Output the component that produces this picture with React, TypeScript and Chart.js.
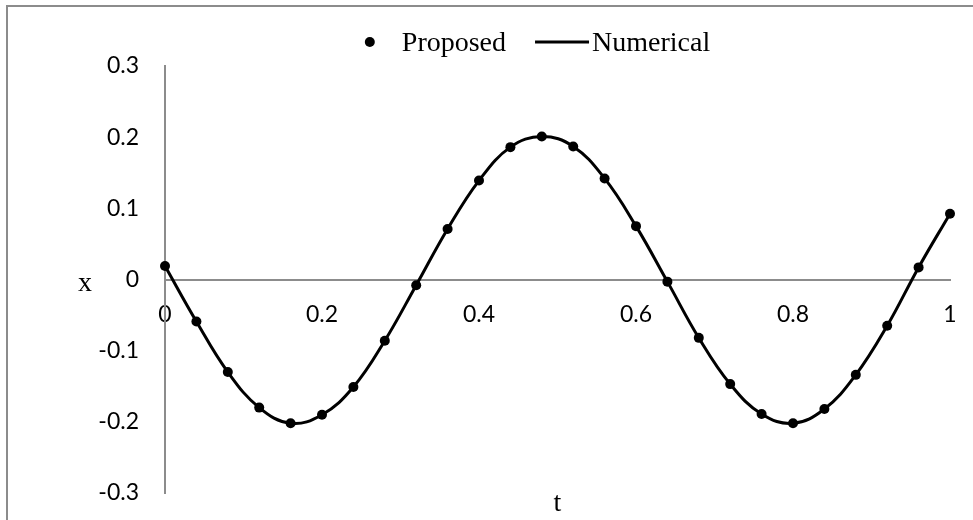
import { useEffect, useRef } from "react";
import { Chart, registerables } from "chart.js";

Chart.register(...registerables);

// Time samples and displacement readings
const tValues = [
  0, 0.04, 0.08, 0.12, 0.16, 0.2, 0.24, 0.28, 0.32, 0.36, 0.4, 0.44, 0.48,
  0.52, 0.56, 0.6, 0.64, 0.68, 0.72, 0.76, 0.8, 0.84, 0.88, 0.92, 0.96, 1,
];
const proposedX = [
  0.019, -0.059, -0.13, -0.18, -0.202, -0.19, -0.151, -0.086, -0.008, 0.071,
  0.139, 0.186, 0.201, 0.187, 0.142, 0.075, -0.003, -0.082, -0.147, -0.189,
  -0.202, -0.182, -0.134, -0.065, 0.017, 0.0925,
];
const numericalX = [
  0.019, -0.059, -0.13, -0.18, -0.202, -0.19, -0.151, -0.086, -0.008, 0.071,
  0.139, 0.186, 0.201, 0.187, 0.142, 0.075, -0.003, -0.082, -0.147, -0.189,
  -0.202, -0.182, -0.134, -0.065, 0.017, 0.0925,
];

const xTicks = [0, 0.2, 0.4, 0.6, 0.8, 1];
const yTicks = [-0.3, -0.2, -0.1, 0, 0.1, 0.2, 0.3];

const seriesNames = ["Proposed", "Numerical"];
const xAxisTitle = "t";
const yAxisTitle = "x";

const SERIF = "'Liberation Serif', 'Times New Roman', serif";
const AXIS_GRAY = "#8c8c8c";
const TICK_FONT = { family: "Lato", size: 23 };
const Y_AXIS_WIDTH = 165;

// Draws the legend row and the two axis titles in the serif face
const overlayPlugin = {
  id: "overlay",
  afterDraw(chart: any) {
    const { ctx, chartArea } = chart;
    const [dsP, dsN] = chart.data.datasets;
    ctx.save();
    ctx.fillStyle = "#000";
    ctx.strokeStyle = "#000";
    ctx.font = `28px ${SERIF}`;
    ctx.textBaseline = "alphabetic";
    ctx.textAlign = "left";

    const wP = ctx.measureText(dsP.label).width;
    const wN = ctx.measureText(dsN.label).width;
    const dotR = 5;
    const gap1 = 27;
    const gap2 = 29;
    const lineLen = 54;
    const gap3 = 3;
    const total = 2 * dotR + gap1 + wP + gap2 + lineLen + gap3 + wN;
    const cy = 42;
    const base = 51;
    let x = 537.5 - total / 2;

    ctx.beginPath();
    ctx.arc(x + dotR, cy, dotR, 0, Math.PI * 2);
    ctx.fill();
    x += 2 * dotR + gap1;
    ctx.fillText(dsP.label, x, base);
    x += wP + gap2;
    ctx.lineWidth = 3;
    ctx.beginPath();
    ctx.moveTo(x, cy);
    ctx.lineTo(x + lineLen, cy);
    ctx.stroke();
    x += lineLen + gap3;
    ctx.fillText(dsN.label, x, base);

    ctx.textAlign = "center";
    ctx.fillText(xAxisTitle, (chartArea.left + chartArea.right) / 2, 511);
    ctx.textAlign = "left";
    ctx.fillText(yAxisTitle, 78, 291);
    ctx.restore();
  },
};

// Keep tick-label overhang from shrinking the plot area
const noLabelPadding = (scale: any) => {
  scale.paddingTop = 0;
  scale.paddingBottom = 0;
  scale.paddingLeft = 0;
  scale.paddingRight = 0;
};

export default function App() {
  const canvasRef = useRef<HTMLCanvasElement | null>(null);

  useEffect(() => {
    const canvas = canvasRef.current;
    if (!canvas) return;

    const chart = new Chart(canvas, {
      type: "scatter",
      data: {
        datasets: [
          {
            label: seriesNames[0],
            data: tValues.map((t, i) => ({ x: t, y: proposedX[i] })),
            showLine: false,
            pointRadius: 5,
            pointBackgroundColor: "#000",
            pointBorderWidth: 0,
            clip: false,
          } as any,
          {
            label: seriesNames[1],
            data: tValues.map((t, i) => ({ x: t, y: numericalX[i] })),
            showLine: true,
            borderColor: "#000",
            borderWidth: 3,
            pointRadius: 0,
            tension: 0.4,
            fill: false,
            clip: false,
          } as any,
        ],
      },
      options: {
        responsive: false,
        animation: false,
        events: [],
        layout: { padding: { left: 0, right: 23, top: 66, bottom: 27 } },
        plugins: {
          legend: { display: false },
          tooltip: { enabled: false },
        },
        scales: {
          x: {
            type: "linear",
            min: 0,
            max: 1,
            position: { y: 0 } as any,
            grid: { display: false, drawTicks: false },
            border: { display: true, color: AXIS_GRAY, width: 2 },
            afterBuildTicks: (scale: any) => {
              scale.ticks = xTicks.map((v) => ({ value: v }));
            },
            afterFit: noLabelPadding,
            ticks: {
              color: "#000",
              font: TICK_FONT,
              padding: 21,
              maxRotation: 0,
              autoSkip: false,
              callback: (v: any) => String(v),
            },
          },
          y: {
            type: "linear",
            min: -0.3,
            max: 0.3,
            position: "left",
            grid: { display: false, drawTicks: false },
            border: { display: true, color: AXIS_GRAY, width: 2 },
            afterBuildTicks: (scale: any) => {
              scale.ticks = yTicks.map((v) => ({ value: v }));
            },
            afterFit: (scale: any) => {
              noLabelPadding(scale);
              scale.width = Y_AXIS_WIDTH;
            },
            ticks: {
              color: "#000",
              font: TICK_FONT,
              padding: 26,
              autoSkip: false,
              callback: (v: any) => String(v),
            },
          },
        },
      },
      plugins: [overlayPlugin],
    });

    return () => chart.destroy();
  }, []);

  return (
    <div
      style={{
        position: "fixed",
        left: 0,
        top: 0,
        width: 973,
        height: 520,
        overflow: "hidden",
        background: "#fff",
      }}
    >
      <div
        style={{
          position: "absolute",
          left: 6,
          top: 5,
          width: 1000,
          height: 600,
          border: `2px solid ${AXIS_GRAY}`,
        }}
      />
      <canvas
        ref={canvasRef}
        width={973}
        height={520}
        style={{ position: "absolute", left: 0, top: 0, width: 973, height: 520 }}
      />
    </div>
  );
}
